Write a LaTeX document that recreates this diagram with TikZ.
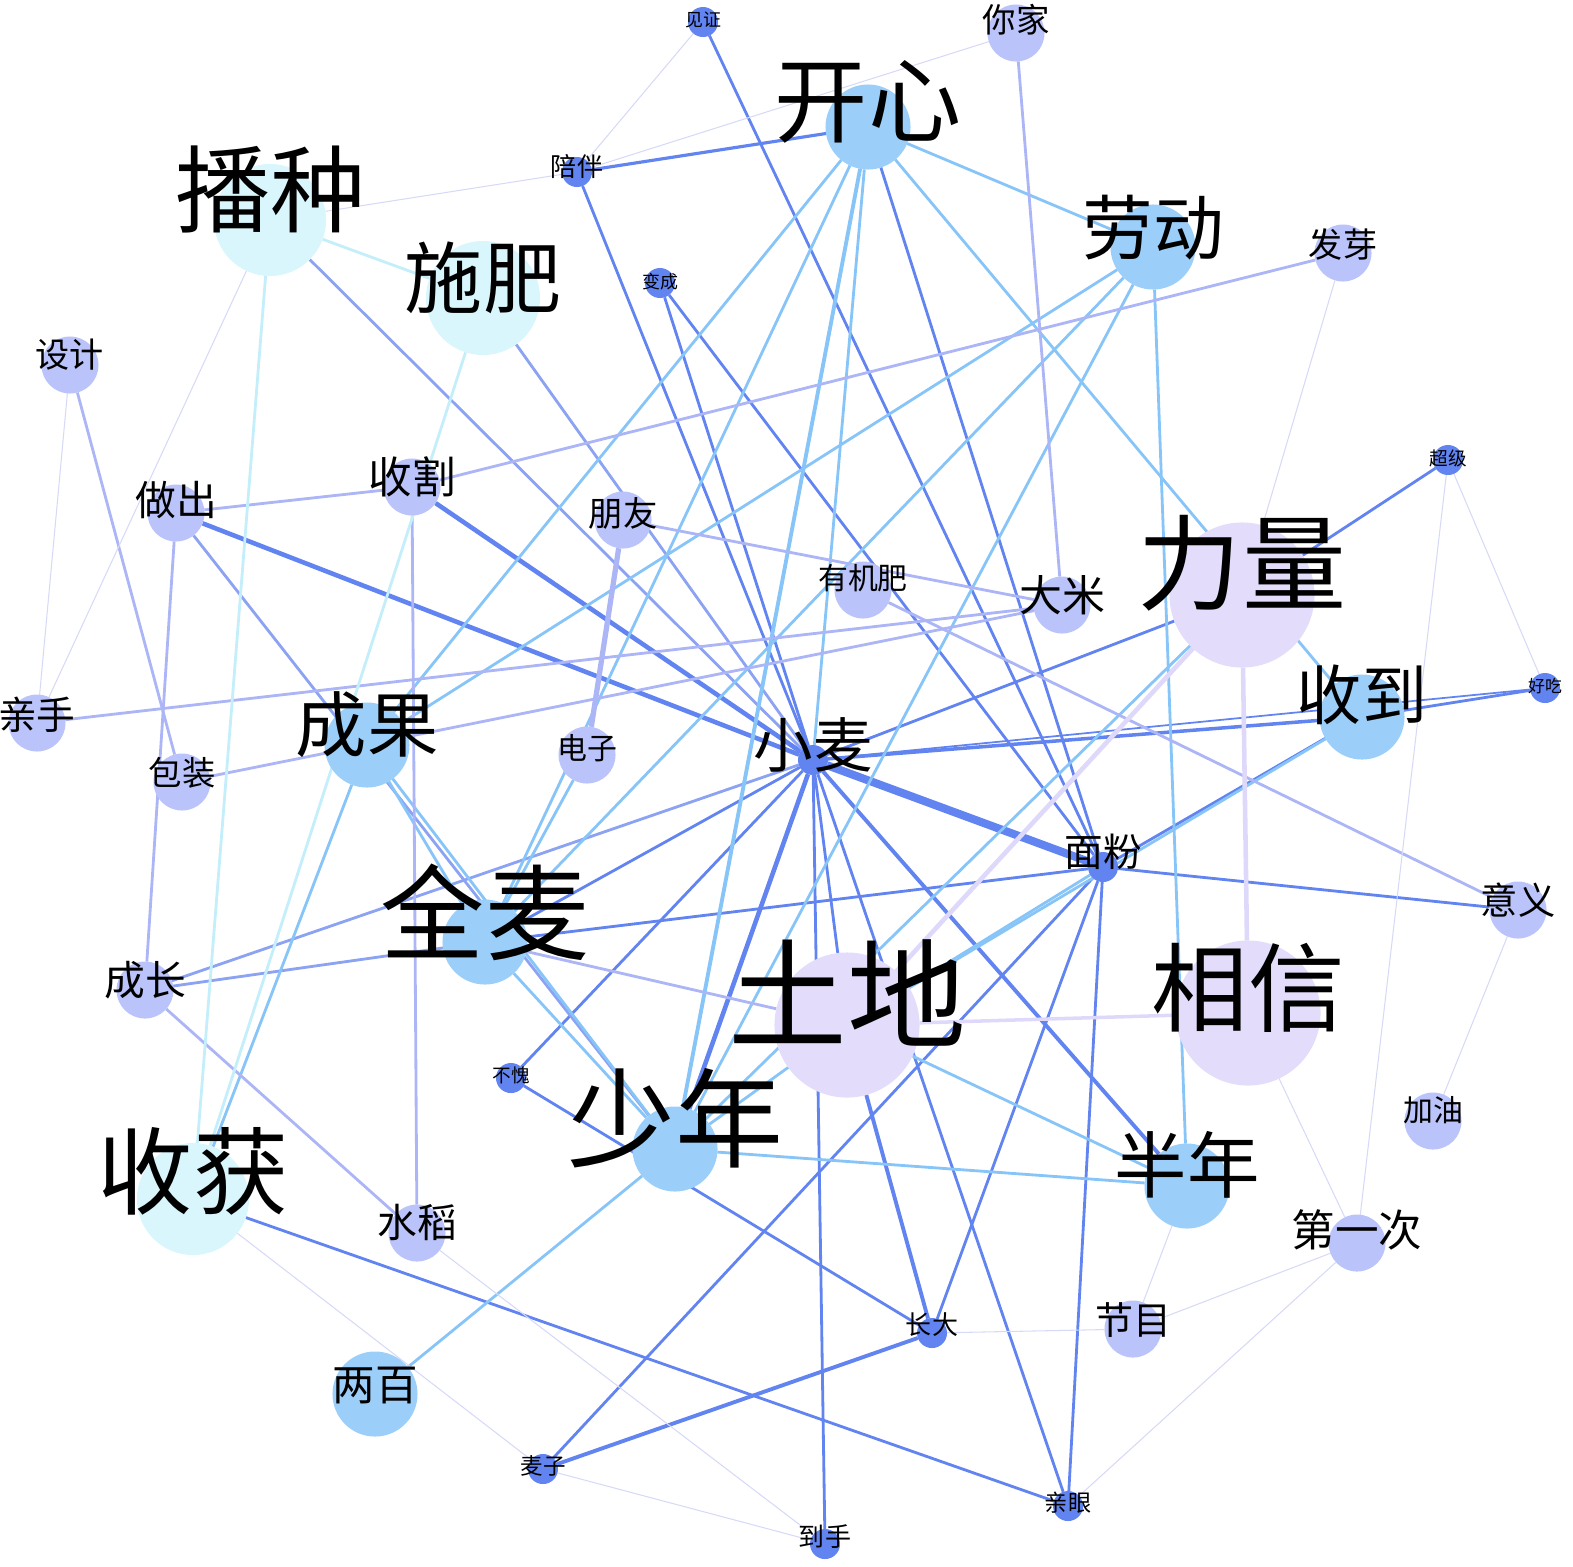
\documentclass[tikz,border=0pt]{standalone}
\usepackage{fontspec}
\setmainfont{Noto Sans CJK SC}
\usetikzlibrary{positioning}
\definecolor{cE}{RGB}{98,132,240}
\definecolor{cM}{RGB}{140,162,242}
\definecolor{cL}{RGB}{135,196,248}
\definecolor{cV}{RGB}{172,182,246}
\definecolor{cC}{RGB}{196,238,250}
\definecolor{cP}{RGB}{222,216,250}
\definecolor{cT}{RGB}{214,218,246}
\definecolor{fD}{RGB}{98,132,240}
\definecolor{fV}{RGB}{186,196,250}
\definecolor{fB}{RGB}{155,207,250}
\definecolor{fC}{RGB}{216,246,252}
\definecolor{fP}{RGB}{227,220,250}
\pgfdeclarelayer{bg}
\pgfsetlayers{bg,main}

\begin{document}
\begin{tikzpicture}[x=0.01cm,y=-0.01cm,
 w/.style={circle,inner sep=0pt,outer sep=0pt},
 sD/.style={w,fill=fD,minimum size=0.3cm},
 sV/.style={w,fill=fV,minimum size=0.57cm},
 sB/.style={w,fill=fB,minimum size=0.85cm},
 sC/.style={w,fill=fC,minimum size=1.12cm},
 sP/.style={w,fill=fP,minimum size=1.45cm},
 t/.style n args={3}{label={[inner sep=0pt,font=\fontsize{#1}{#1}\selectfont,yshift=#2]center:#3}},
 eb/.style={draw=cE,line width=0.8pt},
 em/.style={draw=cM,line width=0.8pt},
 el/.style={draw=cL,line width=0.8pt},
 ev/.style={draw=cV,line width=0.8pt},
 ec/.style={draw=cC,line width=0.8pt},
 ep/.style={draw=cP,line width=1.3pt},
 et/.style={draw=cT,line width=0.3pt}]
\useasboundingbox (0,0) rectangle (1573,1566);
% words
\node[sD,t={5.1}{0.02cm}{见证}] (jz) at (703,22) {};
\node[sV,t={9.5}{0.13cm}{你家}] (nj) at (1016,33) {};
\node[sB,t={26.5}{0.25cm}{开心}] (kx) at (868,127) {};
\node[sD,t={7.4}{0.05cm}{陪伴}] (pb) at (577,172) {};
\node[sC,t={27}{0.30cm}{播种}] (bz) at (270,220) {};
\node[sC,minimum size=1.14cm,t={22.2}{0.20cm}{施肥}] (sf) at (483,298) {};
\node[sB,t={20.1}{0.19cm}{劳动}] (ld) at (1153,247) {};
\node[sV,t={9.7}{0.08cm}{发芽}] (fy) at (1343,253) {};
\node[sD,t={5.1}{0.01cm}{变成}] (bc) at (660,283) {};
\node[sV,t={9.7}{0.10cm}{设计}] (sj) at (70,365) {};
\node[sV,t={11.6}{0.13cm}{做出}] (zc) at (176,513) {};
\node[sV,t={12.4}{0.10cm}{收割}] (sg) at (412,487) {};
\node[sV,t={9.8}{0.07cm}{朋友}] (py) at (623,520) {};
\node[sV,t={8.5}{0.12cm}{有机肥}] (yjf) at (863,590) {};
\node[sV,t={12.2}{0.10cm}{大米}] (dm) at (1062,605) {};
\node[sD,t={5.3}{0.02cm}{超级}] (cj) at (1448,460) {};
\node[sP,t={29.6}{0.32cm}{力量}] (ll) at (1242,595) {};
\node[sD,t={4.8}{0.02cm}{好吃}] (hc) at (1545,688) {};
\node[sB,t={18.5}{0.22cm}{收到}] (sd) at (1362,717) {};
\node[sV,t={11}{0.08cm}{亲手}] (qs) at (37,723) {};
\node[sB,t={20.3}{0.20cm}{成果}] (cg) at (367,745) {};
\node[sV,t={8.5}{0.07cm}{电子}] (dz) at (587,755) {};
\node[sV,t={9.5}{0.09cm}{包装}] (bzh) at (182,782) {};
\node[sD,t={16.9}{0.15cm}{小麦}] (xm) at (813,760) {};
\node[sD,t={11}{0.15cm}{面粉}] (mf) at (1103,867) {};
\node[sV,t={10.6}{0.10cm}{意义}] (yy) at (1518,910) {};
\node[sB,t={29.6}{0.30cm}{全麦}] (qm) at (485,942) {};
\node[sV,t={11.6}{0.10cm}{成长}] (cz) at (145,990) {};
\node[sP,t={33.8}{0.32cm}{土地}] (td) at (847,1025) {};
\node[sP,t={27.5}{0.25cm}{相信}] (xx) at (1248,1013) {};
\node[sD,t={5.3}{0.03cm}{不愧}] (bk) at (511,1078) {};
\node[sV,t={8.5}{0.11cm}{加油}] (jy) at (1433,1121) {};
\node[sB,t={30.7}{0.31cm}{少年}] (sn) at (675,1149) {};
\node[sC,t={27.1}{0.28cm}{收获}] (sh) at (193,1199) {};
\node[sV,t={11.3}{0.11cm}{水稻}] (sdo) at (417,1233) {};
\node[sB,t={20.6}{0.21cm}{半年}] (bn) at (1187,1186) {};
\node[sV,t={12.4}{0.13cm}{第一次}] (dyc) at (1357,1243) {};
\node[sD,t={7.4}{0.08cm}{长大}] (zd) at (932,1333) {};
\node[sV,t={10.8}{0.09cm}{节目}] (jm) at (1133,1329) {};
\node[sB,t={12.1}{0.09cm}{两百}] (lb) at (375,1394) {};
\node[sD,t={6.4}{0.03cm}{麦子}] (mz) at (543,1469) {};
\node[sD,t={6.6}{0.03cm}{亲眼}] (qy) at (1068,1506) {};
\node[sD,t={7.4}{0.07cm}{到手}] (ds) at (825,1544) {};
% links
\begin{pgfonlayer}{bg}
\draw[eb,line width=2.3pt] (xm)--(mf);
\draw[eb,line width=1.3pt] (zc)--(xm);
\draw[eb,line width=1.3pt] (sg)--(xm);
\draw[eb,line width=1.3pt] (xm)--(sn);
\draw[eb,line width=1.1pt] (xm)--(bn);
\draw[eb,line width=1.1pt] (zd)--(mz);
\draw[eb,line width=1.1pt] (td)--(zd);
\draw[eb,line width=1.0pt] (xm)--(sd);
\draw[eb,line width=0.9pt] (kx)--(pb);
\foreach \a/\b in {jz/mf,pb/xm,bc/xm,bc/mf,ll/cj,ll/xm,sd/hc,mf/sd,mf/yy,qm/mf,mf/zd,mf/qy,mf/mz,
  xm/qy,xm/ds,xm/td,xm/qm,bk/xm,bk/zd,sh/qy,kx/mf}
  \draw[eb] (\a)--(\b);
\draw[eb,line width=0.5pt] (xm)--(hc);
\foreach \a/\b in {bz/xm,sf/xm,cz/xm,qm/cz,zc/sn}
  \draw[em] (\a)--(\b);
\draw[el,line width=1.1pt] (kx)--(sn);
\foreach \a/\b in {kx/cg,kx/qm,kx/xm,kx/sd,kx/ld,ld/cg,ld/qm,ld/sn,ld/bn,cg/qm,cg/sn,qm/sn,
  cg/sh,sn/lb,sn/bn,sd/td,ll/sn,dz/qm,sn/td,mf/td,td/bn}
  \draw[el] (\a)--(\b);
\foreach \a/\b in {fy/sg,nj/dm,qs/dm,bzh/dm,py/dm,yjf/yy,sj/bzh,zc/sg,zc/cz,sg/sdo,cz/sdo,qm/td}
  \draw[ev] (\a)--(\b);
\draw[ev,line width=1.5pt] (py)--(dz);
\draw[ep] (ll)--(td);
\draw[ep] (ll)--(xx);
\draw[ep,line width=1.0pt] (td)--(xx);
\foreach \a/\b in {bz/sf,bz/sh,sf/sh}
  \draw[ec] (\a)--(\b);
\foreach \a/\b in {jz/pb,pb/nj,bz/pb,bz/qs,sj/qs,fy/ll,cj/hc,cj/dyc,yy/jy,xx/dyc,jm/dyc,qy/dyc,
  zd/jm,bn/jm,mz/ds,sdo/ds,sh/mz}
  \draw[et] (\a)--(\b);
\end{pgfonlayer}
\end{tikzpicture}
\end{document}
